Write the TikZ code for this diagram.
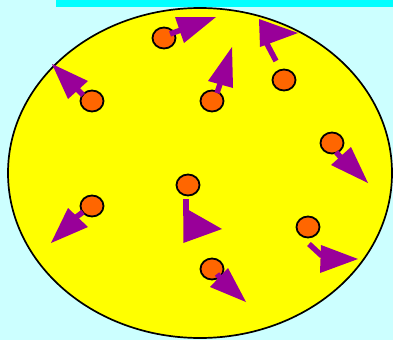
\documentclass[tikz,border=0pt]{standalone}
\usetikzlibrary{shapes.geometric}
\definecolor{bgc}{HTML}{CCFFFF}
\definecolor{barc}{HTML}{00FFFF}
\definecolor{yel}{HTML}{FFFF00}
\definecolor{org}{HTML}{FF6600}
\definecolor{pur}{HTML}{990099}
\tikzset{
  ball/.style={ellipse, draw=black, line width=1.8pt, fill=org, minimum width=23pt, minimum height=21pt, inner sep=0pt},
  shaft/.style={draw=pur, line width=5.5pt},
  head/.style={fill=pur, draw=none}
}
\begin{document}
\begin{tikzpicture}[x=1pt,y=-1pt]
\useasboundingbox (0,0) rectangle (393,340);
\fill[bgc] (0,0) rectangle (393,340);
\fill[barc] (56,0) rectangle (393,7.3);
\draw[fill=yel, line width=1.7pt] (200,173) ellipse [x radius=192, y radius=165];
% particles
\node[ball] (p1) at (164,38) {};
\node[ball] (p2) at (92,101) {};
\node[ball] (p3) at (212,101) {};
\node[ball] (p4) at (284,80) {};
\node[ball] (p5) at (332,143) {};
\node[ball] (p6) at (188,185) {};
\node[ball] (p7) at (92,206) {};
\node[ball] (p8) at (308,227) {};
\node[ball] (p9) at (212,269) {};
% arrows
\draw[shaft] (170,34) -- (181,30);
\fill[head] (175,17) -- (216,17) -- (184,43) -- cycle;
\draw[shaft] (77,89) -- (83,95);
\fill[head] (52,64) -- (88,81) -- (68,99) -- cycle;
\draw[shaft] (217,93) -- (220,84);
\fill[head] (232,47) -- (208,81) -- (233,88) -- cycle;
\draw[shaft] (276,61) -- (266,42);
\fill[head] (259,19) -- (298,33) -- (260,47) -- cycle;
\draw[shaft] (336,152) -- (343,160);
\fill[head] (331,165) -- (351,147) -- (368,183) -- cycle;
\draw[shaft] (83,212) -- (75,218);
\fill[head] (68,208) -- (88,227) -- (51,243) -- cycle;
\draw[shaft] (186,199) -- (186,216);
\fill[head] (183.3,207) -- (222,229) -- (183.3,243) -- cycle;
\draw[shaft] (309,244) -- (322,256);
\fill[head] (321,245) -- (358,259) -- (320,273) -- cycle;
\draw[shaft] (217,274) -- (221,279);
\fill[head] (210,287) -- (228,268) -- (246,302) -- cycle;
\end{tikzpicture}
\end{document}
